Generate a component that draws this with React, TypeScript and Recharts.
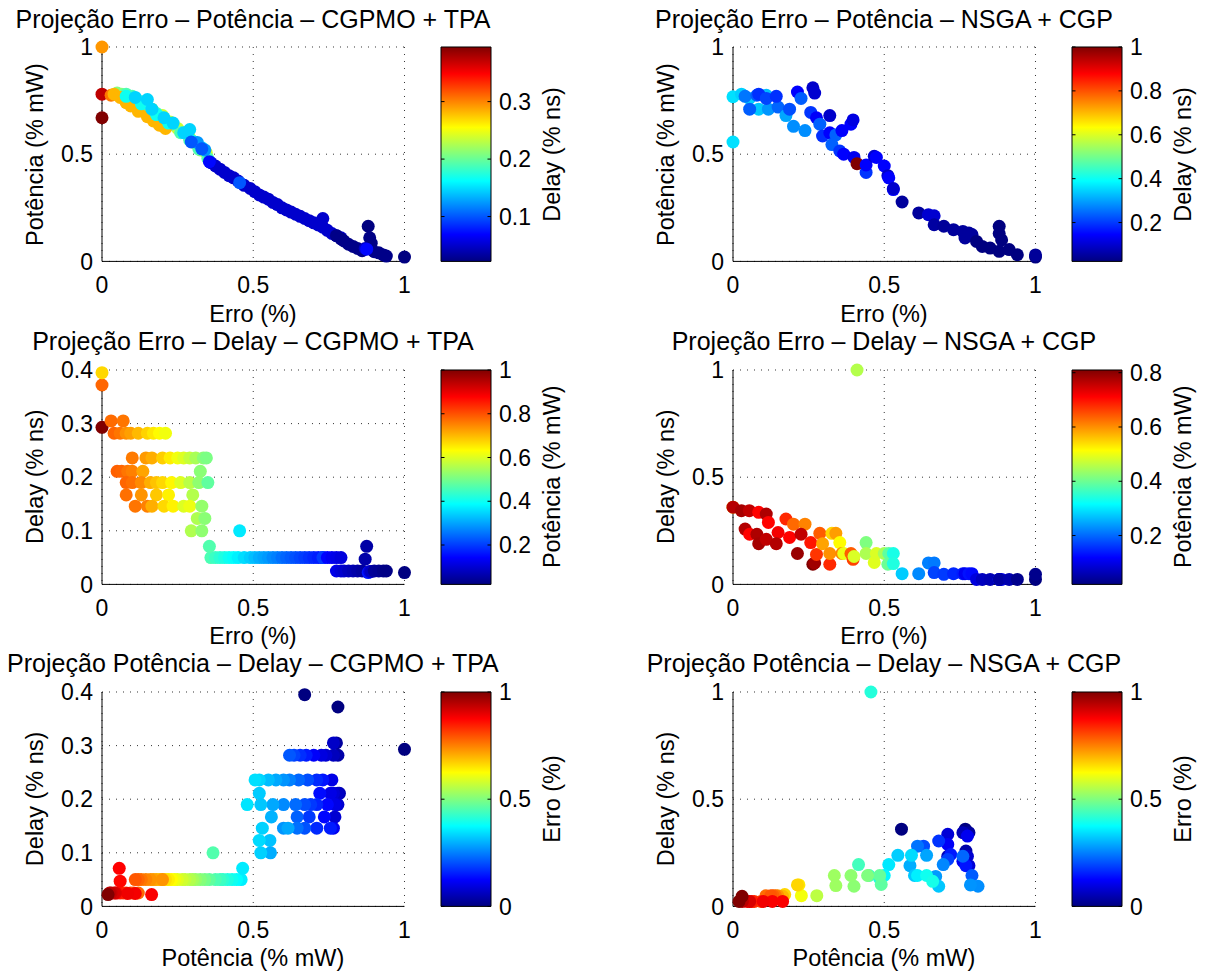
import React from 'react';
import {
  ScatterChart,
  Scatter,
  XAxis,
  YAxis,
  CartesianGrid,
  ComposedChart,
  ReferenceArea,
  ReferenceLine,
} from 'recharts';

type P3 = [number, number, number]; // [erro, potencia, delay]

// CGPMO + TPA solutions: [Erro, Potência, Delay]
const cgpmoTpaPoints: P3[] = [
  [0.36, 0.46, 0.05], [0.375, 0.445, 0.05], [0.39, 0.43, 0.05], [0.405, 0.415, 0.05], [0.42, 0.4, 0.05],
  [0.435, 0.39, 0.05], [0.45, 0.375, 0.05], [0.47, 0.355, 0.05], [0.49, 0.34, 0.05], [0.505, 0.325, 0.05],
  [0.52, 0.31, 0.05], [0.535, 0.3, 0.05], [0.55, 0.29, 0.05], [0.565, 0.275, 0.05], [0.58, 0.265, 0.05],
  [0.595, 0.25, 0.05], [0.61, 0.24, 0.05], [0.625, 0.23, 0.05], [0.64, 0.22, 0.05], [0.655, 0.21, 0.05],
  [0.67, 0.2, 0.05], [0.685, 0.19, 0.05], [0.7, 0.18, 0.05], [0.715, 0.17, 0.05], [0.73, 0.16, 0.05],
  [0.73, 0.2, 0.05], [0.745, 0.145, 0.05], [0.76, 0.13, 0.05], [0.775, 0.12, 0.05], [0.79, 0.11, 0.05],
  [0.775, 0.12, 0.025], [0.79, 0.105, 0.025], [0.8, 0.095, 0.025], [0.815, 0.08, 0.025], [0.83, 0.07, 0.025],
  [0.845, 0.06, 0.025], [0.86, 0.05, 0.025], [0.88, 0.164, 0.022], [0.885, 0.11, 0.024], [0.89, 0.085, 0.024],
  [0.9, 0.045, 0.025], [0.915, 0.04, 0.025], [0.93, 0.03, 0.025], [0.94, 0.025, 0.025], [1.0, 0.02, 0.022],
  [0.87, 0.06, 0.047], [0.875, 0.057, 0.071],
  [0.0, 1.0, 0.293], [0.0, 0.78, 0.372], [0.0, 0.67, 0.395],
  [0.1, 0.76, 0.236], [0.145, 0.73, 0.236], [0.165, 0.71, 0.236], [0.2, 0.68, 0.236], [0.225, 0.65, 0.236],
  [0.25, 0.62, 0.236], [0.27, 0.6, 0.236], [0.29, 0.575, 0.236], [0.31, 0.55, 0.236], [0.335, 0.52, 0.236],
  [0.345, 0.506, 0.236],
  [0.05, 0.785, 0.211], [0.065, 0.78, 0.211], [0.085, 0.765, 0.211], [0.1, 0.755, 0.211], [0.135, 0.72, 0.211],
  [0.325, 0.52, 0.211],
  [0.08, 0.78, 0.19], [0.1, 0.77, 0.19], [0.13, 0.745, 0.19], [0.16, 0.71, 0.19], [0.18, 0.69, 0.19],
  [0.2, 0.67, 0.19], [0.23, 0.64, 0.19], [0.26, 0.6, 0.19], [0.29, 0.565, 0.19], [0.32, 0.525, 0.19],
  [0.35, 0.48, 0.19],
  [0.03, 0.775, 0.305], [0.07, 0.765, 0.305],
  [0.04, 0.78, 0.282], [0.06, 0.765, 0.282], [0.08, 0.74, 0.282], [0.095, 0.725, 0.282], [0.12, 0.7, 0.282],
  [0.15, 0.675, 0.282], [0.17, 0.655, 0.282], [0.19, 0.635, 0.282], [0.21, 0.62, 0.282],
  [0.08, 0.77, 0.167], [0.13, 0.735, 0.167], [0.18, 0.685, 0.167], [0.22, 0.645, 0.167], [0.3, 0.56, 0.167],
  [0.11, 0.765, 0.146], [0.15, 0.755, 0.146], [0.165, 0.71, 0.146], [0.205, 0.67, 0.146], [0.235, 0.645, 0.146],
  [0.27, 0.6, 0.146], [0.29, 0.615, 0.146], [0.33, 0.53, 0.146],
  [0.315, 0.555, 0.123], [0.34, 0.52, 0.123],
  [0.295, 0.557, 0.1], [0.33, 0.525, 0.1], [0.455, 0.367, 0.1],
  [0.355, 0.465, 0.071],
];

// NSGA + CGP solutions: [Erro, Potência, Delay]
const nsgaCgpPoints: P3[] = [
  [0.0, 0.557, 0.36], [0.0, 0.768, 0.36],
  [0.028, 0.78, 0.344], [0.054, 0.76, 0.344], [0.085, 0.71, 0.336], [0.11, 0.775, 0.328], [0.117, 0.71, 0.289],
  [0.04, 0.77, 0.258], [0.055, 0.71, 0.234], [0.079, 0.775, 0.234], [0.085, 0.78, 0.19], [0.11, 0.76, 0.21],
  [0.149, 0.72, 0.242], [0.143, 0.77, 0.19], [0.175, 0.68, 0.305], [0.187, 0.71, 0.219], [0.2, 0.63, 0.281],
  [0.213, 0.79, 0.144], [0.238, 0.61, 0.281], [0.225, 0.76, 0.234], [0.257, 0.695, 0.195], [0.264, 0.81, 0.094],
  [0.27, 0.785, 0.1], [0.276, 0.67, 0.14], [0.287, 0.64, 0.238], [0.296, 0.585, 0.19], [0.32, 0.68, 0.094],
  [0.32, 0.6, 0.144], [0.327, 0.545, 0.238], [0.34, 0.59, 0.238], [0.353, 0.515, 0.195], [0.36, 0.61, 0.144],
  [0.366, 0.5, 0.144], [0.39, 0.64, 0.144], [0.397, 0.66, 0.117], [0.4, 0.485, 0.13], [0.41, 0.456, 1.0],
  [0.44, 0.415, 0.195], [0.44, 0.45, 0.144], [0.467, 0.49, 0.102], [0.474, 0.485, 0.144], [0.5, 0.445, 0.144],
  [0.512, 0.4, 0.094], [0.515, 0.39, 0.144], [0.53, 0.335, 0.144], [0.53, 0.34, 0.097],
  [0.559, 0.277, 0.05], [0.614, 0.226, 0.05], [0.646, 0.218, 0.1], [0.665, 0.213, 0.1], [0.665, 0.171, 0.055],
  [0.697, 0.164, 0.047], [0.729, 0.148, 0.05], [0.76, 0.14, 0.05], [0.767, 0.109, 0.05], [0.78, 0.132, 0.05],
  [0.79, 0.125, 0.05],
  [0.805, 0.093, 0.023], [0.824, 0.07, 0.023], [0.85, 0.062, 0.023], [0.88, 0.164, 0.023], [0.88, 0.13, 0.023],
  [0.888, 0.1, 0.023], [0.88, 0.047, 0.023], [0.913, 0.055, 0.023], [0.94, 0.031, 0.023], [1.0, 0.02, 0.023],
  [1.0, 0.03, 0.047],
];

const unitTicks = [0, 0.5, 1];
const delayTicksCgpmo = [0, 0.1, 0.2, 0.3, 0.4];
const cbDelayTicksCgpmo = [0.1, 0.2, 0.3];
const cbDelayTicksNsga = [0.2, 0.4, 0.6, 0.8, 1];
const cbPotTicksCgpmo = [0.2, 0.4, 0.6, 0.8, 1];
const cbPotTicksNsga = [0.2, 0.4, 0.6, 0.8];
const cbErroTicks = [0, 0.5, 1];

const titles = [
  'Projeção Erro – Potência – CGPMO + TPA',
  'Projeção Erro – Potência – NSGA + CGP',
  'Projeção Erro – Delay – CGPMO + TPA',
  'Projeção Erro – Delay – NSGA + CGP',
  'Projeção Potência – Delay – CGPMO + TPA',
  'Projeção Potência – Delay – NSGA + CGP',
];
const labelErro = 'Erro (%)';
const labelPot = 'Potência (% mW)';
const labelDelay = 'Delay (% ns)';

// layout
const FONT = '"Liberation Sans", Arial, Helvetica, sans-serif';
const COL_X = [101.7, 732.7];
const ROW_Y = [47.3, 369.5, 691.7];
const PW = 302.5;
const PH = 214.4;
const CB_DX = 339.3;
const CB_W = 50;
const MT = 22; // top margin inside each chart svg

const clamp01 = (v: number) => Math.max(0, Math.min(1, v));
function jet(t: number): string {
  const u = clamp01(t);
  const r = clamp01(1.5 - Math.abs(4 * u - 3));
  const g = clamp01(1.5 - Math.abs(4 * u - 2));
  const b = clamp01(1.5 - Math.abs(4 * u - 1));
  return `rgb(${Math.round(r * 255)},${Math.round(g * 255)},${Math.round(b * 255)})`;
}
const JET_STOPS = [0, 0.125, 0.375, 0.625, 0.875, 1];

type PanelCfg = {
  title: string;
  pts: P3[];
  xi: number;
  yi: number;
  ci: number;
  yDomain: [number, number];
  yTicks: number[];
  cTicks: number[];
  xLabel: string;
  yLabel: string;
  cLabel: string;
  row: number;
  col: number;
};

const panels: PanelCfg[] = [
  { title: titles[0], pts: cgpmoTpaPoints, xi: 0, yi: 1, ci: 2, yDomain: [0, 1], yTicks: unitTicks, cTicks: cbDelayTicksCgpmo, xLabel: labelErro, yLabel: labelPot, cLabel: labelDelay, row: 0, col: 0 },
  { title: titles[1], pts: nsgaCgpPoints, xi: 0, yi: 1, ci: 2, yDomain: [0, 1], yTicks: unitTicks, cTicks: cbDelayTicksNsga, xLabel: labelErro, yLabel: labelPot, cLabel: labelDelay, row: 0, col: 1 },
  { title: titles[2], pts: cgpmoTpaPoints, xi: 0, yi: 2, ci: 1, yDomain: [0, 0.4], yTicks: delayTicksCgpmo, cTicks: cbPotTicksCgpmo, xLabel: labelErro, yLabel: labelDelay, cLabel: labelPot, row: 1, col: 0 },
  { title: titles[3], pts: nsgaCgpPoints, xi: 0, yi: 2, ci: 1, yDomain: [0, 1], yTicks: unitTicks, cTicks: cbPotTicksNsga, xLabel: labelErro, yLabel: labelDelay, cLabel: labelPot, row: 1, col: 1 },
  { title: titles[4], pts: cgpmoTpaPoints, xi: 1, yi: 2, ci: 0, yDomain: [0, 0.4], yTicks: delayTicksCgpmo, cTicks: cbErroTicks, xLabel: labelPot, yLabel: labelDelay, cLabel: labelErro, row: 2, col: 0 },
  { title: titles[5], pts: nsgaCgpPoints, xi: 1, yi: 2, ci: 0, yDomain: [0, 1], yTicks: unitTicks, cTicks: cbErroTicks, xLabel: labelPot, yLabel: labelDelay, cLabel: labelErro, row: 2, col: 1 },
];

const tickStyle = { fontSize: 23, fill: '#000', fontFamily: FONT };

const renderDot = (props: any) => {
  const { cx, cy, payload } = props;
  if (cx == null || cy == null) return <g />;
  return <circle cx={cx} cy={cy} r={6.5} fill={payload.color} stroke="none" />;
};

function Panel({ cfg, idx }: { cfg: PanelCfg; idx: number }) {
  const cs = cfg.pts.map((p) => p[cfg.ci]);
  const cmin = Math.min(...cs);
  const cmax = Math.max(...cs);
  const data = cfg.pts.map((p) => ({ x: p[cfg.xi], y: p[cfg.yi], color: jet((p[cfg.ci] - cmin) / (cmax - cmin)) }));
  const left = COL_X[cfg.col];
  const top = ROW_Y[cfg.row];
  const cbLeft = left + CB_DX;
  const gid = `jetgrad${idx}`;
  const cbTickLen = 0.07;
  return (
    <>
      <div style={{ position: 'absolute', left: left - 100, top: top - MT }}>
        <ScatterChart width={100 + PW + 14} height={MT + PH + 50} margin={{ top: MT, right: 14, bottom: 10, left: 40 }}>
          <CartesianGrid stroke="#333" strokeDasharray="1 6" />
          <XAxis
            type="number"
            dataKey="x"
            domain={[0, 1]}
            ticks={unitTicks}
            interval={0}
            height={40}
            axisLine={{ stroke: '#000', strokeWidth: 1 }}
            tickLine={false}
            tickSize={0}
            tickMargin={15}
            tick={tickStyle}
          />
          <YAxis
            type="number"
            dataKey="y"
            domain={cfg.yDomain}
            ticks={cfg.yTicks}
            interval={0}
            width={60}
            axisLine={{ stroke: '#000', strokeWidth: 1 }}
            tickLine={false}
            tickSize={0}
            tickMargin={9}
            tick={tickStyle}
          />
          <Scatter data={data} isAnimationActive={false} shape={renderDot} />
        </ScatterChart>
      </div>
      <div style={{ position: 'absolute', left: cbLeft - 10, top: top - MT }}>
        <ComposedChart
          width={10 + CB_W + 60 + 10}
          height={PH + MT + 20}
          margin={{ top: MT, right: 10, bottom: 20, left: 10 }}
          data={[{ x: 0, y: cmin }, { x: 1, y: cmax }]}
        >
          <defs>
            <linearGradient id={gid} x1="0" y1="1" x2="0" y2="0">
              {JET_STOPS.map((t) => (
                <stop key={t} offset={t} stopColor={jet(t)} />
              ))}
            </linearGradient>
          </defs>
          <XAxis type="number" dataKey="x" domain={[0, 1]} hide height={0} />
          <YAxis
            type="number"
            dataKey="y"
            orientation="right"
            domain={[cmin, cmax]}
            ticks={cfg.cTicks}
            interval={0}
            width={60}
            axisLine={false}
            tickLine={false}
            tickSize={0}
            tickMargin={8}
            tick={tickStyle}
          />
          <ReferenceArea
            x1={0}
            x2={1}
            y1={cmin}
            y2={cmax}
            fill={`url(#${gid})`}
            fillOpacity={1}
            stroke="#000"
            strokeWidth={1}
            ifOverflow="visible"
          />
          {cfg.cTicks.map((t) => (
            <ReferenceLine key={`l${t}`} segment={[{ x: 0, y: t }, { x: cbTickLen, y: t }]} stroke="#000" ifOverflow="visible" />
          ))}
          {cfg.cTicks.map((t) => (
            <ReferenceLine key={`r${t}`} segment={[{ x: 1 - cbTickLen, y: t }, { x: 1, y: t }]} stroke="#000" ifOverflow="visible" />
          ))}
        </ComposedChart>
      </div>
    </>
  );
}

function Texts() {
  return (
    <svg
      width={1205}
      height={974}
      style={{ position: 'absolute', left: 0, top: 0, pointerEvents: 'none' }}
      fontFamily={FONT}
      fill="#000"
    >
      {panels.map((cfg, i) => {
        const left = COL_X[cfg.col];
        const top = ROW_Y[cfg.row];
        const cx = left + PW / 2;
        const cy = top + PH / 2;
        const cbLabelX = left + CB_DX + CB_W + 69;
        const yLabelX = left - 59;
        return (
          <g key={i}>
            <text x={cx} y={top - 19.3} fontSize={25} textAnchor="middle">
              {cfg.title}
            </text>
            <text x={cx} y={top + PH + 60} fontSize={23.5} textAnchor="middle">
              {cfg.xLabel}
            </text>
            <text x={yLabelX} y={cy} fontSize={23.5} textAnchor="middle" transform={`rotate(-90 ${yLabelX} ${cy})`}>
              {cfg.yLabel}
            </text>
            <text x={cbLabelX} y={cy} fontSize={23.5} textAnchor="middle" transform={`rotate(-90 ${cbLabelX} ${cy})`}>
              {cfg.cLabel}
            </text>
          </g>
        );
      })}
    </svg>
  );
}

export default function App() {
  return (
    <div style={{ position: 'absolute', left: 0, top: 0, width: 1205, height: 974, background: '#fff', overflow: 'hidden' }}>
      {panels.map((cfg, i) => (
        <Panel key={i} cfg={cfg} idx={i} />
      ))}
      <Texts />
    </div>
  );
}
